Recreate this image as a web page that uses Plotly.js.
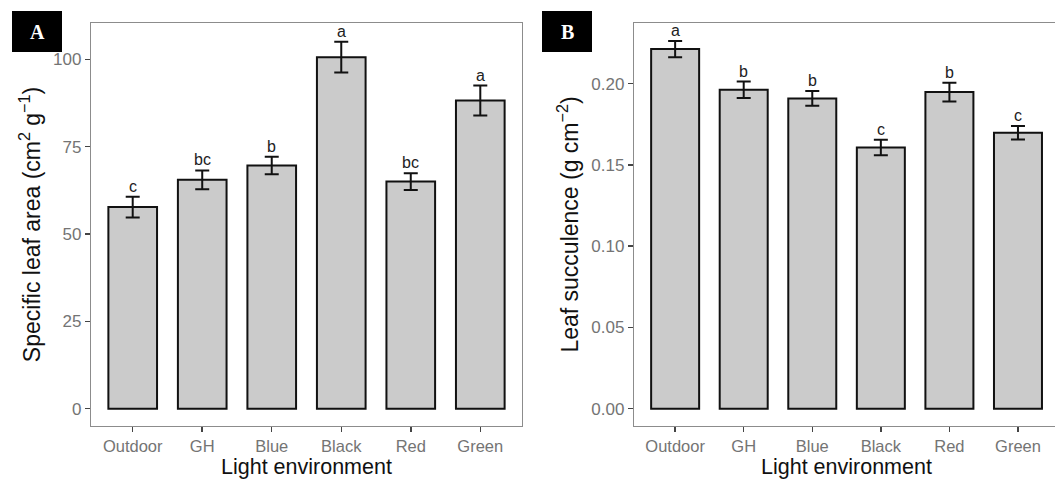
<!DOCTYPE html>
<html>
<head>
<meta charset="utf-8">
<script src="https://cdn.plot.ly/plotly-3.0.1.min.js"></script>
<style>html,body{margin:0;padding:0;background:#fff;}#chart{width:1055px;height:479px;}</style>
</head>
<body>
<div id="chart"></div>
<script>
// Data
const categories = ["Outdoor", "GH", "Blue", "Black", "Red", "Green"];
const slaMean = [57.7, 65.5, 69.6, 100.6, 65.0, 88.2];
const slaSE   = [3.0, 2.7, 2.5, 4.4, 2.4, 4.3];
const slaLetters = ["c", "bc", "b", "a", "bc", "a"];
const succMean = [0.2213, 0.1962, 0.1909, 0.1607, 0.1948, 0.1698];
const succSE   = [0.0050, 0.0051, 0.0045, 0.0047, 0.0058, 0.0042];
const succLetters = ["a", "b", "b", "c", "b", "c"];
const panelLabels = ["A", "B"];
const xTitle = "Light environment";

const W = 1055, H = 479;
const px = v => v / W;
const py = v => 1 - v / H;

function barTrace(y, se, xa, ya) {
  return {
    type: "bar", x: categories, y: y, xaxis: xa, yaxis: ya, width: 0.7,
    marker: {color: "#cbcbcb", line: {color: "#111", width: 2}},
    error_y: {type: "data", array: se, visible: true, color: "#111", thickness: 2, width: 7},
    hoverinfo: "skip", showlegend: false
  };
}

const data = [
  barTrace(slaMean, slaSE, "x", "y"),
  barTrace(succMean, succSE, "x2", "y2")
];

const letterFont = {family: "Liberation Sans, Arial", size: 16, color: "#222"};
const annotations = [];
categories.forEach((c, i) => {
  annotations.push({x: c, y: slaMean[i] + slaSE[i], xref: "x", yref: "y", text: slaLetters[i],
    showarrow: false, yanchor: "bottom", yshift: 0, font: letterFont});
  annotations.push({x: c, y: succMean[i] + succSE[i], xref: "x2", yref: "y2", text: succLetters[i],
    showarrow: false, yanchor: "bottom", yshift: 0, font: letterFont});
});

// X-axis titles
[[91, 522], [634, 1059]].forEach(d => {
  annotations.push({xref: "paper", yref: "paper", x: px((d[0] + d[1]) / 2), y: py(466.5), text: xTitle,
    showarrow: false, xanchor: "center", yanchor: "middle",
    font: {family: "Liberation Sans, Arial", size: 21.5, color: "#111"}});
});

// Panel labels
const boxes = [[12, 62], [542, 592]];
const shapes = [];
boxes.forEach((b, i) => {
  shapes.push({type: "rect", xref: "paper", yref: "paper", x0: px(b[0]), x1: px(b[1]), y0: py(52), y1: py(11),
    fillcolor: "#000", line: {width: 0}, layer: "above"});
  annotations.push({xref: "paper", yref: "paper", x: px((b[0] + b[1]) / 2), y: py(32), text: "<b>" + panelLabels[i] + "</b>",
    showarrow: false, xanchor: "center", yanchor: "middle", font: {family: "Liberation Serif, Times New Roman", size: 20, color: "#fff"}});
});

const tickFont = {family: "Liberation Sans, Arial", size: 16.5, color: "#747474"};

function xAxis(domain, range, anchor) {
  return {
    domain: domain, range: range, anchor: anchor, type: "category",
    showline: true, linecolor: "#8c8c8c", linewidth: 1.2, mirror: true,
    ticks: "outside", ticklen: 5, tickcolor: "#444", tickwidth: 1.5,
    tickfont: tickFont, showgrid: false, zeroline: false, fixedrange: true
  };
}
function yAxis(domain, range, anchor, tickvals, ticktext, title, mirror) {
  return {
    domain: domain, range: range, anchor: anchor,
    showline: true, linecolor: "#8c8c8c", linewidth: 1.2, mirror: mirror,
    ticks: "outside", ticklen: 5, tickcolor: "#444", tickwidth: 1.5,
    tickvals: tickvals, ticktext: ticktext,
    tickfont: {family: "Liberation Sans, Arial", size: 17, color: "#747474"},
    showgrid: false, zeroline: false, fixedrange: true,
    title: {text: title, font: {family: "Liberation Sans, Arial", size: 23, color: "#111"}, standoff: 6}
  };
}

const yDom = [py(426), py(23)];
const layout = {
  width: W, height: H,
  margin: {l: 0, r: 0, t: 0, b: 0},
  paper_bgcolor: "#fff", plot_bgcolor: "#fff",
  showlegend: false, bargap: 0.3,
  xaxis: xAxis([px(91), px(522)], [-0.6, 5.6], "y"),
  yaxis: yAxis(yDom, [-4.95, 110.4], "x", [0, 25, 50, 75, 100], ["0", "25", "50", "75", "100"],
    "Specific leaf area (cm<sup>2</sup> g<sup>\u22121</sup>)", true),
  xaxis2: xAxis([px(634), 1], [-0.6, 5.54], "y2"),
  yaxis2: yAxis(yDom, [-0.01065, 0.2373], "x2", [0, 0.05, 0.1, 0.15, 0.2], ["0.00", "0.05", "0.10", "0.15", "0.20"],
    "Leaf succulence (g cm<sup>\u22122</sup>)", false),
  annotations: annotations,
  shapes: shapes
};

Plotly.newPlot("chart", data, layout, {displayModeBar: false, staticPlot: true});
</script>
</body>
</html>
